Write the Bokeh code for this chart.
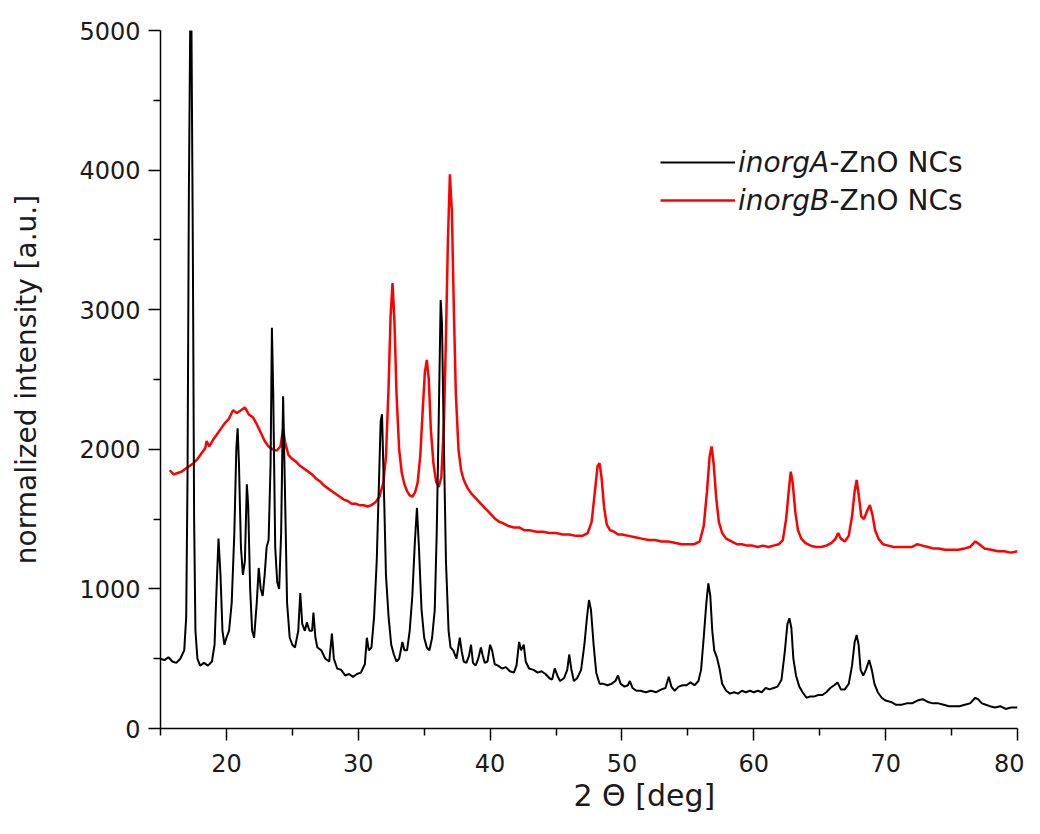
from bokeh.plotting import figure
from bokeh.models import Range1d, FixedTicker, Legend, LegendItem, Label, Title
from bokeh.embed import file_html
from bokeh.resources import INLINE

# ---------------- data ----------------
X_TICKS = [20, 30, 40, 50, 60, 70, 80]
X_MINOR = [15, 25, 35, 45, 55, 65, 75]
Y_TICKS = [0, 1000, 2000, 3000, 4000, 5000]
Y_MINOR = [500, 1500, 2500, 3500, 4500]

A_LABEL = "inorgA"
B_LABEL = "inorgB"
SUFFIX = "-ZnO NCs"
X_TITLE = "2 Θ [deg]"
Y_TITLE = "normalized intensity [a.u.]"

# inorgA-ZnO NCs (black)
A_X = [15.0, 15.3, 15.6, 15.9, 16.2, 16.5, 16.8, 16.95, 17.05, 17.15, 17.25, 17.35, 17.45, 17.55, 17.65,
       17.8, 18.0, 18.3, 18.6, 18.9, 19.1, 19.25, 19.4, 19.55, 19.7, 19.85, 20.0, 20.2, 20.4, 20.6,
       20.75, 20.85, 20.95, 21.1, 21.25, 21.4, 21.55, 21.65, 21.8, 21.95, 22.1, 22.3, 22.45, 22.6, 22.75,
       22.9, 23.05, 23.2, 23.35, 23.45, 23.55, 23.7, 23.85, 24.0, 24.15, 24.3, 24.42, 24.6, 24.8, 25.0,
       25.2, 25.45, 25.6, 25.75, 25.95, 26.1, 26.3, 26.5, 26.6, 26.75, 26.9, 27.2, 27.5, 27.8, 28.0,
       28.15, 28.4, 28.7, 29.0, 29.3, 29.6, 29.9, 30.2, 30.5, 30.65, 30.8, 31.0, 31.2, 31.4, 31.55,
       31.7, 31.8, 31.95, 32.1, 32.3, 32.5, 32.7, 32.9, 33.1, 33.35, 33.5, 33.7, 33.9, 34.1, 34.3,
       34.45, 34.6, 34.8, 35.0, 35.2, 35.4, 35.6, 35.8, 35.95, 36.1, 36.25, 36.35, 36.5, 36.65, 36.85,
       37.0, 37.2, 37.45, 37.7, 37.85, 38.0, 38.2, 38.4, 38.55, 38.7, 38.9, 39.1, 39.3, 39.45, 39.6,
       39.8, 40.0, 40.15, 40.35, 40.6, 40.9, 41.2, 41.5, 41.8, 42.0, 42.2, 42.35, 42.55, 42.7, 42.95,
       43.3, 43.6, 43.9, 44.2, 44.5, 44.7, 44.9, 45.1, 45.3, 45.6, 45.85, 46.0, 46.15, 46.35, 46.6,
       46.9, 47.15, 47.35, 47.5, 47.65, 47.85, 48.05, 48.3, 48.6, 48.9, 49.2, 49.5, 49.7, 49.9, 50.2,
       50.45, 50.6, 50.8, 51.1, 51.4, 51.8, 52.2, 52.6, 53.0, 53.3, 53.55, 53.75, 54.0, 54.3, 54.6,
       54.9, 55.2, 55.5, 55.8, 56.0, 56.2, 56.4, 56.55, 56.7, 56.85, 57.0, 57.2, 57.4, 57.6, 57.9,
       58.2, 58.5, 58.8, 59.1, 59.4, 59.7, 60.0, 60.3, 60.6, 60.9, 61.2, 61.5, 61.8, 62.1, 62.35,
       62.55, 62.7, 62.85, 63.0, 63.2, 63.45, 63.7, 64.0, 64.3, 64.6, 64.9, 65.2, 65.5, 65.8, 66.1,
       66.35, 66.6, 66.9, 67.2, 67.45, 67.65, 67.8, 67.95, 68.1, 68.3, 68.5, 68.75, 68.95, 69.15, 69.4,
       69.7, 70.0, 70.4, 70.8, 71.2, 71.6, 72.0, 72.4, 72.8, 73.2, 73.6, 74.0, 74.4, 74.8, 75.2,
       75.6, 76.0, 76.4, 76.8, 77.0, 77.3, 77.6, 77.9, 78.3, 78.7, 79.1, 79.5, 80.0]
A_Y = [500, 490, 510, 480, 470, 500, 560, 800, 1800, 3800, 5000, 5000, 3500, 1500, 700,
       500, 450, 470, 450, 480, 600, 1000, 1360, 1100, 700, 600, 650, 700, 900, 1400,
       2000, 2150, 1900, 1300, 1100, 1200, 1750, 1600, 1000, 700, 650, 900, 1150, 1000, 950,
       1100, 1300, 1350, 1900, 2870, 2400, 1300, 1050, 1000, 1400, 2380, 1800, 900, 650, 600,
       580, 700, 970, 750, 700, 760, 700, 700, 830, 650, 580, 560, 500, 480, 680,
       500, 430, 420, 380, 390, 370, 390, 400, 460, 650, 560, 580, 800, 1200, 1700,
       2200, 2250, 1700, 1100, 800, 600, 530, 480, 500, 620, 560, 560, 700, 950, 1350,
       1580, 1300, 850, 650, 580, 560, 650, 850, 1400, 2200, 3070, 2900, 2000, 1200, 700,
       580, 560, 500, 650, 550, 480, 470, 520, 600, 470, 450, 500, 580, 520, 470,
       480, 600, 560, 460, 450, 430, 440, 410, 400, 450, 620, 560, 600, 480, 430,
       420, 400, 410, 390, 360, 350, 430, 380, 340, 360, 420, 530, 430, 340, 360,
       420, 600, 800, 920, 850, 600, 400, 320, 320, 310, 320, 340, 380, 320, 300,
       310, 340, 290, 270, 270, 260, 270, 260, 280, 290, 370, 300, 270, 300, 310,
       310, 330, 310, 340, 420, 650, 900, 1040, 950, 700, 560, 510, 430, 320, 270,
       250, 260, 250, 270, 260, 270, 260, 270, 260, 290, 280, 290, 300, 350, 550,
       750, 790, 720, 500, 380, 300, 260, 220, 230, 230, 240, 240, 260, 290, 310,
       330, 280, 280, 320, 450, 620, 670, 600, 420, 380, 420, 490, 420, 320, 260,
       220, 200, 190, 170, 170, 180, 180, 200, 210, 190, 180, 180, 170, 160, 160,
       160, 170, 180, 220, 210, 180, 170, 160, 150, 160, 140, 150, 150]

# inorgB-ZnO NCs (red)
B_X = [15.7, 16.0, 16.3, 16.6, 16.9, 17.2, 17.5, 17.8, 18.1, 18.4, 18.5, 18.7, 19.0, 19.3, 19.6,
       19.9, 20.2, 20.5, 20.8, 21.1, 21.4, 21.7, 22.0, 22.3, 22.6, 22.9, 23.2, 23.5, 23.8, 24.1,
       24.3, 24.45, 24.7, 25.0, 25.3, 25.6, 25.9, 26.2, 26.5, 26.8, 27.1, 27.4, 27.7, 28.0, 28.3,
       28.6, 28.9, 29.2, 29.5, 29.8, 30.1, 30.4, 30.7, 31.0, 31.3, 31.6, 31.9, 32.1, 32.3, 32.45,
       32.6, 32.75, 32.9, 33.1, 33.3, 33.5, 33.7, 33.9, 34.1, 34.3, 34.5, 34.7, 34.9, 35.05, 35.2,
       35.35, 35.5, 35.7, 35.9, 36.1, 36.3, 36.5, 36.65, 36.8, 36.95, 37.1, 37.25, 37.4, 37.6, 37.8,
       38.0, 38.3, 38.6, 38.9, 39.2, 39.5, 39.8, 40.1, 40.4, 40.7, 41.0, 41.4, 41.8, 42.2, 42.6,
       43.0, 43.5, 44.0, 44.5, 45.0, 45.5, 46.0, 46.5, 47.0, 47.4, 47.7, 47.95, 48.15, 48.3, 48.45,
       48.65, 48.85, 49.1, 49.4, 49.7, 50.0, 50.5, 51.0, 51.5, 52.0, 52.5, 53.0, 53.5, 54.0, 54.5,
       55.0, 55.5, 55.9, 56.2, 56.45, 56.65, 56.8, 56.95, 57.15, 57.35, 57.6, 57.9, 58.3, 58.7, 59.1,
       59.5, 59.9, 60.3, 60.7, 61.1, 61.5, 61.9, 62.2, 62.45, 62.65, 62.8, 62.95, 63.15, 63.35, 63.6,
       63.9, 64.3, 64.7, 65.1, 65.5, 65.9, 66.2, 66.4, 66.6, 66.9, 67.2, 67.45, 67.65, 67.8, 67.95,
       68.15, 68.35, 68.6, 68.8, 69.0, 69.2, 69.45, 69.8, 70.2, 70.6, 71.0, 71.5, 72.0, 72.4, 72.8,
       73.2, 73.6, 74.0, 74.5, 75.0, 75.5, 76.0, 76.4, 76.8, 77.1, 77.5, 78.0, 78.5, 79.0, 79.5, 80.0]
B_Y = [1850, 1820, 1830, 1840, 1860, 1880, 1900, 1930, 1970, 2010, 2060, 2020, 2070, 2110, 2150,
       2190, 2220, 2280, 2260, 2280, 2300, 2250, 2230, 2180, 2120, 2060, 2020, 2000, 1990, 2020,
       2150, 2050, 1960, 1930, 1910, 1880, 1860, 1840, 1820, 1790, 1770, 1740, 1720, 1700, 1680,
       1660, 1640, 1630, 1610, 1610, 1600, 1600, 1590, 1600, 1620, 1660, 1760, 1950, 2450, 2950,
       3190, 2900, 2400, 2000, 1830, 1750, 1700, 1670, 1660, 1690, 1760, 1950, 2300, 2550, 2640,
       2500, 2150, 1900, 1770, 1730, 1800, 2200, 2800, 3500, 3970, 3700, 3000, 2400, 2000, 1850,
       1780, 1720, 1680, 1650, 1620, 1590, 1560, 1530, 1500, 1480, 1470, 1450, 1440, 1440, 1420,
       1420, 1410, 1410, 1400, 1400, 1390, 1390, 1380, 1380, 1400, 1480, 1700, 1880, 1900, 1800,
       1580, 1460, 1420, 1410, 1390, 1390, 1380, 1370, 1360, 1350, 1350, 1340, 1340, 1330, 1320,
       1320, 1320, 1340, 1450, 1700, 1950, 2020, 1900, 1650, 1480, 1400, 1360, 1340, 1320, 1320,
       1310, 1310, 1300, 1310, 1300, 1310, 1320, 1350, 1500, 1700, 1840, 1760, 1550, 1420, 1360,
       1330, 1310, 1300, 1300, 1310, 1330, 1360, 1400, 1360, 1340, 1380, 1520, 1700, 1780, 1680,
       1520, 1500, 1560, 1600, 1530, 1420, 1360, 1320, 1310, 1300, 1300, 1300, 1300, 1320, 1310,
       1300, 1290, 1290, 1280, 1280, 1280, 1290, 1300, 1340, 1320, 1290, 1280, 1270, 1270, 1260, 1270]

FONT = "DejaVu Sans"

# ---------------- figure ----------------
p = figure(width=1024, height=818,
           x_range=Range1d(15, 80), y_range=Range1d(0, 5000),
           output_backend="svg", toolbar_location=None,
           min_border_left=160, min_border_right=7,
           min_border_top=30, min_border_bottom=90)
p.outline_line_color = None
p.grid.visible = False
p.background_fill_color = "white"
p.border_fill_color = "white"

rb = p.line(B_X, B_Y, line_color="#ff0000", line_width=2.5)
ra = p.line(A_X, A_Y, line_color="#000000", line_width=2.0)

p.xaxis.ticker = FixedTicker(ticks=X_TICKS, minor_ticks=X_MINOR)
p.yaxis.ticker = FixedTicker(ticks=Y_TICKS, minor_ticks=Y_MINOR)

for ax in (p.xaxis[0], p.yaxis[0]):
    ax.axis_line_color = "black"
    ax.axis_line_width = 1.5
    ax.major_tick_line_color = "black"
    ax.major_tick_line_width = 1.5
    ax.minor_tick_line_color = "black"
    ax.minor_tick_line_width = 1.5
    ax.major_tick_in = 0
    ax.major_tick_out = 12
    ax.minor_tick_in = 0
    ax.minor_tick_out = 7
    ax.major_label_text_font = FONT
    ax.major_label_text_font_size = "24px"
    ax.major_label_text_color = "#1a1a1a"

p.xaxis.major_label_standoff = 13
p.yaxis.major_label_standoff = 8

p.yaxis.axis_label = Y_TITLE
p.yaxis.axis_label_text_font = FONT
p.yaxis.axis_label_text_font_size = "28px"
p.yaxis.axis_label_text_font_style = "normal"
p.yaxis.axis_label_text_color = "#1a1a1a"
p.yaxis.axis_label_standoff = 33

xt = Title(text=X_TITLE, align="left", offset=413, standoff=3,
           text_font=FONT, text_font_size="30px", text_font_style="normal",
           text_color="#1a1a1a")
p.add_layout(xt, "below")

legend = Legend(items=[LegendItem(label=A_LABEL, renderers=[ra]),
                       LegendItem(label=B_LABEL, renderers=[rb])],
                location=(500, 511), orientation="vertical",
                label_text_font=FONT, label_text_font_style="italic",
                label_text_font_size="28px", label_text_color="#1a1a1a",
                glyph_width=75, glyph_height=34, label_height=34,
                label_standoff=3, spacing=4, padding=0, margin=0,
                border_line_color=None, background_fill_alpha=0)
p.add_layout(legend)

for txt_y in (566, 528):
    p.add_layout(Label(x=669, y=txt_y, x_units="screen", y_units="screen",
                       text=SUFFIX, text_baseline="middle", text_align="left",
                       text_font=FONT, text_font_size="28px",
                       text_color="#1a1a1a"))

open("out.html", "w").write(file_html(p, INLINE))
